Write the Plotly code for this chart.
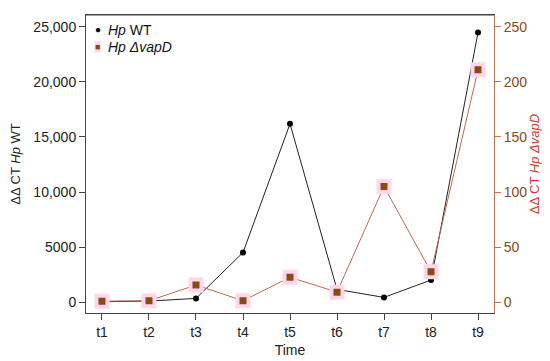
import plotly.graph_objects as go

times = ["t1", "t2", "t3", "t4", "t5", "t6", "t7", "t8", "t9"]
wt_values = [30, 90, 330, 4500, 16200, 1150, 420, 2000, 24500]
vapd_values = [0.8, 1.2, 15.5, 1.2, 22.5, 9, 105, 27.5, 211]

left_ticks = [0, 5000, 10000, 15000, 20000, 25000]
left_ticktext = ["0", "5000", "10,000", "15,000", "20,000", "25,000"]
right_ticks = [0, 50, 100, 150, 200, 250]

series_names = ["<i>Hp</i> WT", "<i>Hp ΔvapD</i>"]

FONT = "Liberation Sans, Arial, sans-serif"
BROWN = "#8b4a14"
LINE2 = "#bc6a4e"
PINK = "#ffd6ea"

fig = go.Figure()

fig.add_trace(go.Scatter(
    x=times, y=wt_values, mode="lines",
    line=dict(color="#222222", width=1), showlegend=False, hoverinfo="skip"))
fig.add_trace(go.Scatter(
    x=times, y=vapd_values, yaxis="y2", mode="lines",
    line=dict(color=LINE2, width=1), showlegend=False, hoverinfo="skip"))
fig.add_trace(go.Scatter(
    x=times, y=wt_values, mode="markers", name=series_names[0],
    marker=dict(symbol="circle", size=6, color="black"), showlegend=False))
fig.add_trace(go.Scatter(
    x=times, y=vapd_values, yaxis="y2", mode="markers",
    name=series_names[1], showlegend=False,
    marker=dict(symbol="square", size=11, color=BROWN,
                line=dict(color=PINK, width=4))))

# legend drawn as annotations (R-style, symbols only)
def px(x):
    return (x - 76) / 410.0

def py(y):
    return (305 - y) / 299.0

fig.add_annotation(xref="paper", yref="paper", x=px(88), y=py(21),
                   text="●", showarrow=False, font=dict(size=10, color="black"),
                   xanchor="center", yanchor="middle")
fig.add_annotation(xref="paper", yref="paper", x=px(88), y=py(38),
                   text="■", showarrow=False, font=dict(size=9, color=BROWN),
                   bgcolor=PINK, borderpad=0,
                   xanchor="center", yanchor="middle")
fig.add_annotation(xref="paper", yref="paper", x=px(96), y=py(21),
                   text=series_names[0], showarrow=False,
                   font=dict(size=14, color="#111"),
                   xanchor="left", yanchor="middle")
fig.add_annotation(xref="paper", yref="paper", x=px(96), y=py(38),
                   text=series_names[1], showarrow=False,
                   font=dict(size=14, color="#111"),
                   xanchor="left", yanchor="middle")

lo, hi = -996, 26087
fig.update_layout(
    width=550, height=361,
    margin=dict(l=76, r=64, t=6, b=56),
    paper_bgcolor="white", plot_bgcolor="white",
    font=dict(family=FONT, size=14, color="#222222"),
    showlegend=False,
    xaxis=dict(
        categoryorder="array", categoryarray=times,
        range=[-0.34, 8.34], showgrid=False, zeroline=False,
        ticks="outside", ticklen=6, tickcolor="#444",
        showline=True, linecolor="#444", linewidth=1, mirror=True,
        title=dict(text="Time", standoff=6, font=dict(size=14))),
    yaxis=dict(
        range=[lo, hi], tickvals=left_ticks, ticktext=left_ticktext,
        showgrid=False, zeroline=False,
        ticks="outside", ticklen=6, tickcolor="#444",
        showline=True, linecolor="#444", linewidth=1,
        title=dict(text="ΔΔ CT <i>Hp</i> WT", standoff=10, font=dict(size=13))),
    yaxis2=dict(
        overlaying="y", side="right",
        range=[lo / 100, hi / 100], tickvals=right_ticks,
        showgrid=False, zeroline=False,
        ticks="outside", ticklen=6, tickcolor="#b87a5a",
        tickfont=dict(color=BROWN),
        showline=True, linecolor="#b87a5a", linewidth=1,
        title=dict(text="ΔΔ CT <i>Hp ΔvapD</i>", standoff=2,
                   font=dict(size=13, color="#d03a2a"))),
)
fig.add_shape(type="line", xref="paper", yref="paper", x0=0, x1=1, y0=1, y1=1,
              line=dict(color="#444", width=1))

fig.write_html("out.html")
